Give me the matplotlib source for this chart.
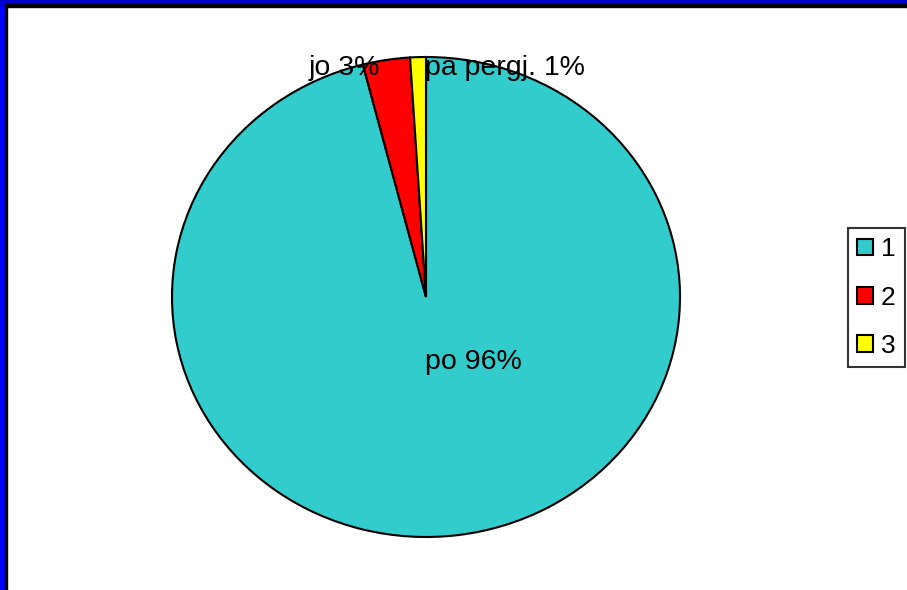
import matplotlib
matplotlib.use('Agg')
import matplotlib.pyplot as plt
from matplotlib.patches import Rectangle

plt.rcParams['font.family'] = ['Liberation Sans', 'DejaVu Sans']

names = ['po', 'jo', 'pa pergj.']
values = [96, 3, 1]
legend_labels = ['1', '2', '3']
colors = ['#33CCCC', '#FF0000', '#FFFF00']

W, H = 907, 590
fig = plt.figure(figsize=(W / 100, H / 100), dpi=100)

# pie area: slightly wider than tall, like the original
ax = fig.add_axes([172 / W, (H - 537) / H, 508 / W, 480 / H])
wedges, _ = ax.pie(values, colors=colors, startangle=90, counterclock=False,
                   wedgeprops=dict(edgecolor='black', linewidth=1.5))
ax.set_aspect('auto')
ax.set_xlim(-1, 1)
ax.set_ylim(-1, 1)
ax.axis('off')

labels = [f'{n} {v}%' for n, v in zip(names, values)]
ax.text(-0.004, -0.27, labels[0], fontsize=20.5, ha='left', va='center')
ax.text(-0.18, 0.955, labels[1], fontsize=20.5, ha='right', va='center')
ax.text(-0.004, 0.955, labels[2], fontsize=20.5, ha='left', va='center')

leg = fig.legend(wedges, legend_labels, loc='upper right',
                 bbox_to_anchor=(905 / W, (H - 228) / H), fontsize=19,
                 frameon=True, fancybox=False, handlelength=0.6, handleheight=0.6,
                 handletextpad=0.3, labelspacing=0.92, borderpad=0.35,
                 borderaxespad=0)
leg.get_frame().set_edgecolor('black')
leg.get_frame().set_linewidth(1.5)

# blue / black frame on left and top
fig.patches.append(Rectangle((0, 0), 5 / W, 1, transform=fig.transFigure, color='#0000FF', zorder=5))
fig.patches.append(Rectangle((5 / W, 0), 2 / W, (H - 5) / H, transform=fig.transFigure, color='black', zorder=5))
fig.patches.append(Rectangle((0, (H - 4) / H), 1, 4 / H, transform=fig.transFigure, color='#0000CC', zorder=5))
fig.patches.append(Rectangle((5 / W, (H - 7) / H), 1, 3 / H, transform=fig.transFigure, color='black', zorder=5))

fig.savefig('out.png', dpi=100)
